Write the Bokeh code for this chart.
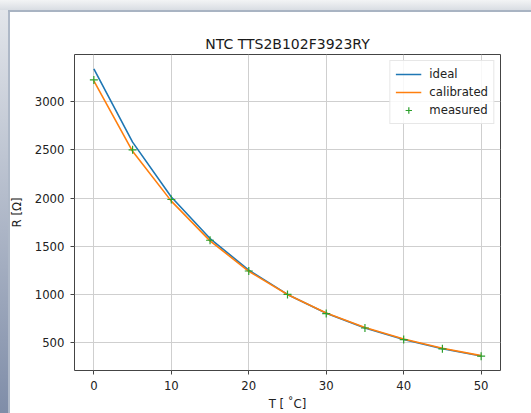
from bokeh.plotting import figure
from bokeh.models import (Range1d, FixedTicker, Legend, LegendItem,
                          InlineStyleSheet, GlobalInlineStyleSheet)
from bokeh.embed import file_html
from bokeh.resources import INLINE

# Temperature points [°C] and resistance values [Ohm]
temps = [0, 5, 10, 15, 20, 25, 30, 35, 40, 45, 50]
ideal = [3340, 2580, 2010, 1580, 1252, 1000, 805, 652, 532, 437, 361]
calibrated = [3215, 2485, 1968, 1556, 1240, 1000, 808, 657, 537, 441, 365]
measured = [3225, 2500, 1985, 1562, 1243, 1000, 802, 652, 532, 436, 360]

x_ticks = [0, 10, 20, 30, 40, 50]
y_ticks = [500, 1000, 1500, 2000, 2500, 3000]

W, H = 531, 413
FONT = "DejaVu Sans"

allv = ideal + calibrated + measured
lo, hi = min(allv), max(allv)
pad = 0.05 * (hi - lo)
xpad = 0.05 * (max(temps) - min(temps))

p = figure(width=W, height=H, output_backend="svg", toolbar_location=None,
           x_range=Range1d(min(temps) - xpad, max(temps) + xpad),
           y_range=Range1d(lo - pad, hi + pad),
           min_border_left=74, min_border_right=31,
           min_border_top=54, min_border_bottom=42,
           title="NTC TTS2B102F3923RY")

# window chrome painted behind a transparent border area:
# top bar, left edge strip and the thin window border lines
chrome_css = """
:host {
  background:
    linear-gradient(#a9b4c3, #a9b4c3) 8px 10px / 523px 2px no-repeat,
    linear-gradient(#aeb8c7, #aeb8c7) 8px 10px / 2px 403px no-repeat,
    linear-gradient(to bottom, #f3f4f5, #d9dde3) 0 0 / 531px 10px no-repeat,
    linear-gradient(to bottom, #e2e5ea, #7f8da8) 0 10px / 8px 403px no-repeat,
    #ffffff;
}
"""
page_css = "html, body { margin: 0; padding: 0; overflow: hidden; }"
p.stylesheets = [InlineStyleSheet(css=chrome_css),
                 GlobalInlineStyleSheet(css=page_css)]
p.border_fill_alpha = 0

p.background_fill_color = "white"
p.outline_line_color = "#444444"
p.outline_line_width = 1

p.title.align = "center"
p.title.text_font = FONT
p.title.text_font_size = "14px"
p.title.text_font_style = "normal"
p.title.text_color = "#1a1a1a"
p.title.standoff = 6

for ax in (p.xaxis[0], p.yaxis[0]):
    ax.axis_line_color = None
    ax.major_tick_line_color = "#444444"
    ax.major_tick_out = 4
    ax.major_tick_in = 0
    ax.minor_tick_line_color = None
    ax.major_label_text_font = FONT
    ax.major_label_text_font_size = "11.7px"
    ax.major_label_text_color = "#222222"
    ax.axis_label_text_font = FONT
    ax.axis_label_text_font_size = "11.7px"
    ax.axis_label_text_font_style = "normal"
    ax.axis_label_text_color = "#222222"
    ax.major_label_standoff = 6

p.xaxis[0].ticker = FixedTicker(ticks=x_ticks)
p.yaxis[0].ticker = FixedTicker(ticks=y_ticks)
p.xaxis[0].axis_label = "T [ ˚C]"
p.yaxis[0].axis_label = "R [Ω]"
p.xaxis[0].axis_label_standoff = 4
p.yaxis[0].axis_label_standoff = 8

p.grid.grid_line_color = "#cfcfcf"
p.grid.grid_line_width = 1

r_ideal = p.line(temps, ideal, line_color="#1f77b4", line_width=1.6)
r_cal = p.line(temps, calibrated, line_color="#ff7f0e", line_width=1.6)
r_meas = p.scatter(temps, measured, marker="cross", size=8,
                   line_color="#2ca02c", line_width=1.2)

legend = Legend(items=[LegendItem(label="ideal", renderers=[r_ideal]),
                       LegendItem(label="calibrated", renderers=[r_cal]),
                       LegendItem(label="measured", renderers=[r_meas])],
                location="top_right")
legend.label_text_font = FONT
legend.label_text_font_size = "11.7px"
legend.label_text_color = "#222222"
legend.border_line_color = "#d0d0d0"
legend.background_fill_alpha = 0.85
legend.glyph_width = 26
legend.glyph_height = 16
legend.label_height = 16
legend.label_standoff = 8
legend.spacing = 2
legend.padding = 5
legend.margin = 6
p.add_layout(legend)

open("out.html", "w").write(file_html(p, INLINE))
